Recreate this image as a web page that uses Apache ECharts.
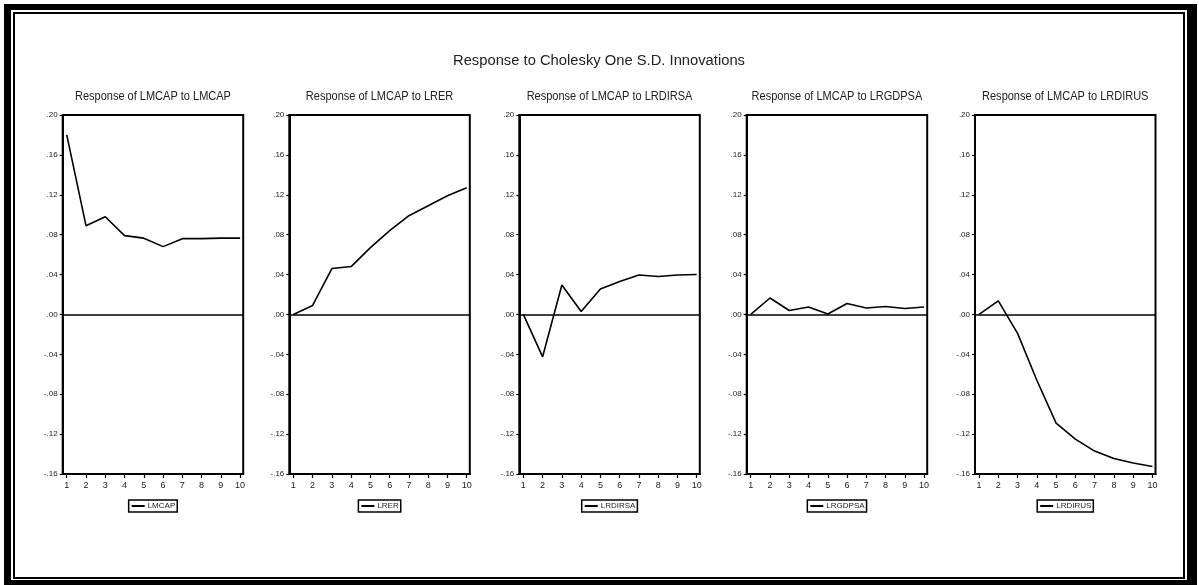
<!DOCTYPE html>
<html>
<head>
<meta charset="utf-8">
<script src="https://cdn.jsdelivr.net/npm/echarts@6/dist/echarts.min.js"></script>
<style>
html,body{margin:0;padding:0;background:#fff;}
#c{width:1199px;height:585px;}
</style>
</head>
<body>
<div id="c"></div>
<script>
// ---- data ----
const periods = [1, 2, 3, 4, 5, 6, 7, 8, 9, 10];
const mainTitle = 'Response to Cholesky One S.D. Innovations';
const panelTitles = [
  'Response of LMCAP to LMCAP',
  'Response of LMCAP to LRER',
  'Response of LMCAP to LRDIRSA',
  'Response of LMCAP to LRGDPSA',
  'Response of LMCAP to LRDIRUS'
];
const seriesNames = ['LMCAP', 'LRER', 'LRDIRSA', 'LRGDPSA', 'LRDIRUS'];
const respLMCAP   = [0.180, 0.089, 0.098, 0.079, 0.0765, 0.068, 0.076, 0.076, 0.0765, 0.0765];
const respLRER    = [0.000, 0.009, 0.046, 0.048, 0.067, 0.084, 0.099, 0.109, 0.119, 0.127];
const respLRDIRSA = [0.000, -0.0425, 0.0295, 0.003, 0.0255, 0.033, 0.0395, 0.038, 0.0395, 0.040];
const respLRGDPSA = [0.000, 0.0165, 0.004, 0.0075, 0.0005, 0.011, 0.0065, 0.008, 0.006, 0.0075];
const respLRDIRUS = [0.000, 0.0137, -0.019, -0.066, -0.109, -0.125, -0.137, -0.1445, -0.149, -0.1525];
const yMin = -0.16, yMax = 0.20, yStep = 0.04;

const allResp = [respLMCAP, respLRER, respLRDIRSA, respLRGDPSA, respLRDIRUS];

// ---- layout ----
const FONT = '"Liberation Sans", Arial, sans-serif';
const gridLefts = [62.7, 289.3, 519.3, 746.7, 975];
const gridW = 180.5, gridTop = 115, gridH = 359;

function fmtY(v) {
  const r = Math.round(v * 100) / 100;
  let s = Math.abs(r).toFixed(2).replace(/^0/, '');
  return (r < 0 ? '-' : '') + s;
}

const cvs = document.createElement('canvas').getContext('2d');
function textW(t, size) { cvs.font = size + 'px ' + FONT; return cvs.measureText(t).width; }

const subScale = 156 / textW(panelTitles[0], 13);
const mainScale = 292 / textW(mainTitle, 14);

const grids = [], xAxes = [], yAxes = [], series = [], legends = [];
const graphic = [
  // thick outer frame
  {type: 'rect', shape: {x: 4, y: 4, width: 7, height: 581}, style: {fill: '#000'}},
  {type: 'rect', shape: {x: 4, y: 4, width: 1193, height: 6}, style: {fill: '#000'}},
  {type: 'rect', shape: {x: 1187, y: 4, width: 10, height: 581}, style: {fill: '#000'}},
  {type: 'rect', shape: {x: 4, y: 580, width: 1193, height: 5}, style: {fill: '#000'}},
  // thin inner frame
  {type: 'rect', shape: {x: 13, y: 12, width: 2, height: 567}, style: {fill: '#000'}},
  {type: 'rect', shape: {x: 13, y: 12, width: 1172, height: 2}, style: {fill: '#000'}},
  {type: 'rect', shape: {x: 1183, y: 12, width: 2, height: 567}, style: {fill: '#000'}},
  {type: 'rect', shape: {x: 13, y: 577, width: 1172, height: 2}, style: {fill: '#000'}},
  {type: 'text', x: 599, y: 61, scaleX: mainScale,
    style: {text: mainTitle, font: '14px ' + FONT, fill: '#222',
      textAlign: 'center', textVerticalAlign: 'middle', align: 'center', verticalAlign: 'middle'}}
];

for (let i = 0; i < 5; i++) {
  const L = gridLefts[i];
  grids.push({left: L, top: gridTop, width: gridW, height: gridH, show: true,
    borderColor: '#000', borderWidth: 2, backgroundColor: '#fff', containLabel: false});
  xAxes.push({
    type: 'value', gridIndex: i, min: 0.79, max: 10.16,
    axisLine: {show: true, onZero: false, lineStyle: {color: '#000', width: 2}},
    axisTick: {show: true, length: 4, lineStyle: {color: '#000', width: 1.2}, customValues: periods},
    axisLabel: {show: true, margin: 7, fontFamily: FONT, fontSize: 9, color: '#222', customValues: periods,
      formatter: v => String(Math.round(v))},
    splitLine: {show: false}
  });
  yAxes.push({
    type: 'value', gridIndex: i, min: yMin, max: yMax, interval: yStep,
    axisLine: {show: true, onZero: false, lineStyle: {color: '#000', width: 2}},
    axisTick: {show: true, length: 3, lineStyle: {color: '#000', width: 1.2}},
    axisLabel: {show: true, margin: 5, fontFamily: FONT, fontSize: 8, color: '#222', formatter: fmtY},
    splitLine: {show: false}
  });
  series.push({
    name: seriesNames[i], type: 'line', xAxisIndex: i, yAxisIndex: i,
    data: periods.map((p, k) => [p, allResp[i][k]]),
    symbol: 'none', showSymbol: false, animation: false,
    lineStyle: {color: '#000', width: 1.6}, itemStyle: {color: '#000'},
    markLine: {silent: true, symbol: 'none', animation: false, label: {show: false},
      lineStyle: {color: '#000', width: 1.5, type: 'solid'}, data: [{yAxis: 0}]}
  });
  graphic.push({type: 'text', x: L + gridW / 2, y: 96, scaleX: subScale,
    style: {text: panelTitles[i], font: '13px ' + FONT, fill: '#222',
      textAlign: 'center', textVerticalAlign: 'middle', align: 'center', verticalAlign: 'middle'}});
  const tw = textW(seriesNames[i], 8);
  const bw = 3 + 13 + 3 + tw + 2;
  legends.push({
    data: [seriesNames[i]], left: L + gridW / 2 - bw / 2, top: 500,
    orient: 'horizontal', itemWidth: 13, itemHeight: 2, itemGap: 0,
    padding: [2, 2, 2, 3], borderColor: '#000', borderWidth: 1.5, borderRadius: 0,
    backgroundColor: '#fff', selectedMode: false,
    textStyle: {fontFamily: FONT, fontSize: 8, color: '#222', padding: [0, 0, 0, -2]},
    icon: 'rect'
  });
}

const chart = echarts.init(document.getElementById('c'), null, {renderer: 'canvas'});
chart.setOption({
  backgroundColor: '#fff',
  animation: false,
  grid: grids,
  xAxis: xAxes,
  yAxis: yAxes,
  legend: legends,
  series: series,
  graphic: graphic
});
</script>
</body>
</html>
